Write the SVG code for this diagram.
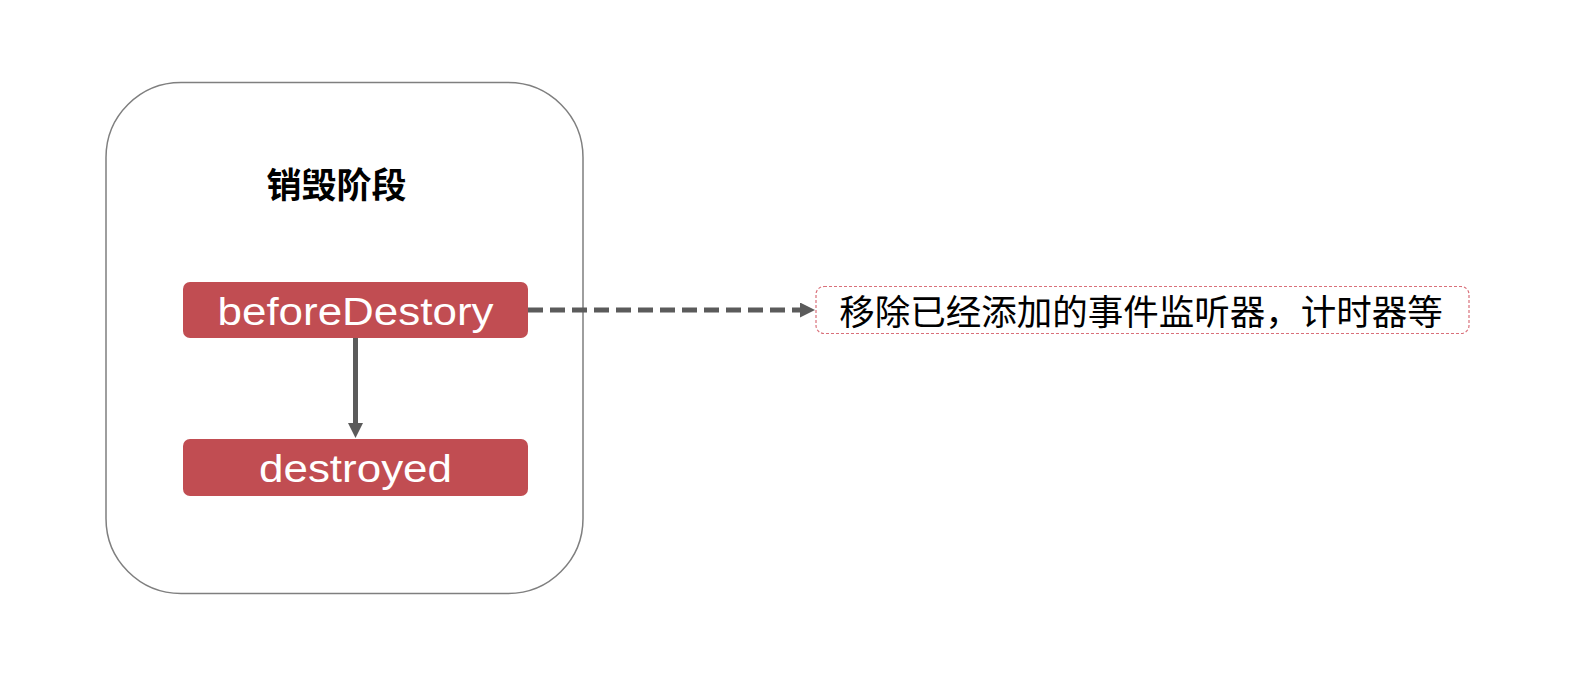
<svg xmlns="http://www.w3.org/2000/svg" width="1592" height="698" viewBox="0 0 1592 698">
  <defs>
    <style>
      .stage { fill: #ffffff; stroke: #7f7f7f; stroke-width: 1.5; }
      .hook { fill: #c14d52; }
      .hook-label { font-family: "Liberation Sans", Arial, sans-serif; font-size: 39px; fill: #ffffff; text-anchor: middle; }
      .title { font-family: "Noto Sans CJK SC", sans-serif; font-size: 35px; font-weight: bold; fill: #000000; text-anchor: middle; }
      .note { fill: #ffffff; stroke: #d9707a; stroke-width: 1.2; stroke-dasharray: 3 2; }
      .note-label { font-family: "Noto Sans CJK SC", sans-serif; font-size: 35.5px; fill: #000000; text-anchor: middle; }
      .link { fill: none; stroke: #5b5b5b; stroke-width: 5; }
      .dashed { stroke-dasharray: 15 7; }
    </style>
    <marker id="arrow" viewBox="0 0 15 15" refX="0" refY="7.5" markerWidth="15" markerHeight="15" markerUnits="userSpaceOnUse" orient="auto">
      <path d="M0,0 L15,7.5 L0,15 Z" fill="#5b5b5b"/>
    </marker>
  </defs>

  <!-- stage container -->
  <g id="stage">
    <rect class="stage" x="106" y="82.5" width="477" height="511" rx="75" ry="75"/>
    <text class="title" x="336.5" y="198">销毁阶段</text>
  </g>

  <!-- connectors -->
  <g id="connectors">
    <line class="link" x1="355.5" y1="338" x2="355.5" y2="423" marker-end="url(#arrow)"/>
    <line class="link dashed" x1="528" y1="310" x2="800" y2="310" marker-end="url(#arrow)"/>
  </g>

  <g id="beforeDestory">
    <rect class="hook" x="183" y="282" width="345" height="56" rx="7" ry="7"/>
    <text class="hook-label" x="355.5" y="325" textLength="276" lengthAdjust="spacingAndGlyphs">beforeDestory</text>
  </g>

  <g id="destroyed">
    <rect class="hook" x="183" y="439" width="345" height="57" rx="7" ry="7"/>
    <text class="hook-label" x="355.5" y="482" textLength="193" lengthAdjust="spacingAndGlyphs">destroyed</text>
  </g>

  <g id="note">
    <rect class="note" x="816" y="286.5" width="653" height="47" rx="8" ry="8"/>
    <text class="note-label" x="1141" y="325">移除已经添加的事件监听器，计时器等</text>
  </g>
</svg>
